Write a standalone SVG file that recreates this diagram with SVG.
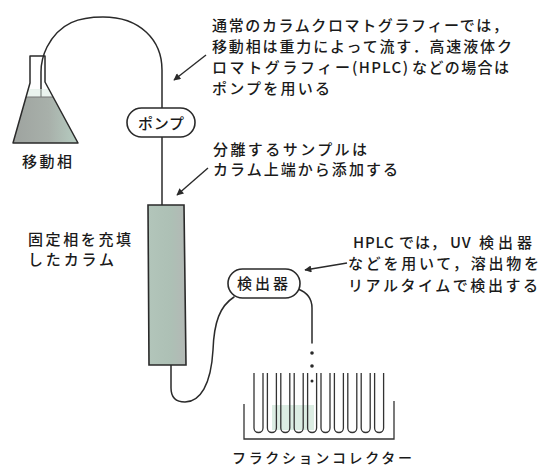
<svg xmlns="http://www.w3.org/2000/svg" width="542" height="467" viewBox="0 0 542 467">
  <style>
    .txt { font-family: "Noto Sans CJK JP", "Noto Sans", sans-serif; fill: #1a1a1a; font-weight: 500; }
    .t15 { font-size: 15px; }
    .t14 { font-size: 14px; }
    .line { fill: none; stroke: #2a2a2a; stroke-width: 1.5; stroke-linecap: round; stroke-linejoin: round; }
    .thin { fill: none; stroke: #333; stroke-width: 1.3; }
    .pill { fill: #fff; stroke: #2a2a2a; stroke-width: 1.6; }
    .lead { fill: none; stroke: #2a2a2a; stroke-width: 1.4; }
  </style>
  <defs>
    <marker id="arrowhead" viewBox="0 0 10 10" refX="9" refY="5" markerWidth="9" markerHeight="7" markerUnits="userSpaceOnUse" orient="auto">
      <path d="M0,0 L10,5 L0,10 Z" fill="#2a2a2a"/>
    </marker>
    <linearGradient id="liquid" x1="0" y1="0" x2="1" y2="0">
      <stop offset="0" stop-color="#9ea39f"/>
      <stop offset="0.55" stop-color="#a8b0aa"/>
      <stop offset="1" stop-color="#b6cdc1"/>
    </linearGradient>
    <linearGradient id="packing" x1="0" y1="0" x2="1" y2="0">
      <stop offset="0" stop-color="#b2c5ba"/>
      <stop offset="0.6" stop-color="#adc0b5"/>
      <stop offset="1" stop-color="#b3b8b5"/>
    </linearGradient>
    <!-- one collection tube: open top, rounded bottom -->
    <path id="tube" d="M0,373 L0,428 A4.5,4.5 0 0 0 9,428 L9,373"/>
  </defs>

  <!-- connecting tubing -->
  <g id="connectors">
    <path class="line" d="M41,140 L41,72 C41,62 43,55 47,47 C60,22 80,17 103,17 C140,17 162,40 162,70 L162,108"/>
    <path class="line" d="M162,137 L162,205"/>
    <path class="line" d="M171,365 L171,388 C171,398 177,402 185,402 C200,402 211,385 213,350 C214,322 220,306 234,297"/>
    <path class="line" d="M298,289 C306,292 312,298 312,308 L312,343"/>
    <!-- leader arrows for the notes -->
    <path class="lead" d="M206,55 L174,80" marker-end="url(#arrowhead)"/>
    <path class="lead" d="M208,168 L177,195" marker-end="url(#arrowhead)"/>
    <path class="lead" d="M347,263 L305,270" marker-end="url(#arrowhead)"/>
  </g>

  <!-- mobile phase reservoir (Erlenmeyer flask) -->
  <g id="flask">
    <path d="M26,97 L53,97 L78,143 L13,143 Z" fill="url(#liquid)"/>
    <path d="M28,89 L49,89 L53,97 L26,97 Z" fill="#dcebe3" opacity="0.6"/>
    <line x1="26" y1="97" x2="53" y2="97" stroke="#777" stroke-width="1"/>
    <path class="line" d="M30,56 L30,83 L13,143 L78,143 L45,82 L45,56 Z"/>
    <text class="txt t15" x="22" y="167" textLength="50" lengthAdjust="spacing">移動相</text>
  </g>

  <!-- pump -->
  <g id="pump">
    <rect class="pill" x="127" y="108" width="68" height="29" rx="14.5"/>
    <text class="txt t15" x="138" y="129" textLength="46" lengthAdjust="spacing">ポンプ</text>
  </g>

  <!-- packed column -->
  <g id="column">
    <path d="M148,205 L184,205 L186,365 L149,365 Z" fill="url(#packing)" stroke="#2a2a2a" stroke-width="1.6"/>
    <text class="txt t15" x="28" y="245" textLength="103" lengthAdjust="spacing">固定相を充填</text>
    <text class="txt t15" x="28" y="265" textLength="86" lengthAdjust="spacing">したカラム</text>
  </g>

  <!-- detector -->
  <g id="detector">
    <rect class="pill" x="228" y="269" width="72" height="29" rx="14.5"/>
    <text class="txt t15" x="237" y="289" textLength="51" lengthAdjust="spacing">検出器</text>
  </g>

  <!-- fraction collector -->
  <g id="fraction-collector">
    <rect x="272" y="405" width="42" height="25" fill="#d3e8dc" opacity="0.8"/>
    <circle cx="312" cy="353" r="1.8" fill="#2a2a2a"/>
    <circle cx="312" cy="366" r="1.8" fill="#2a2a2a"/>
    <circle cx="312" cy="381" r="1.5" fill="#2a2a2a"/>
    <g class="thin">
      <use href="#tube" x="254"/>
      <use href="#tube" x="267.4"/>
      <use href="#tube" x="280.8"/>
      <use href="#tube" x="294.2"/>
      <use href="#tube" x="307.6"/>
      <use href="#tube" x="321"/>
      <use href="#tube" x="334.4"/>
      <use href="#tube" x="347.8"/>
      <use href="#tube" x="361.2"/>
      <use href="#tube" x="374.6"/>
    </g>
    <path class="thin" d="M244,404 L244,439 L394,439 L394,401"/>
    <text class="txt t14" x="232" y="463" textLength="180" lengthAdjust="spacing">フラクションコレクター</text>
  </g>

  <!-- notes -->
  <g id="note-pump">
    <text class="txt t15" x="212" y="31" textLength="296" lengthAdjust="spacing">通常のカラムクロマトグラフィーでは，</text>
    <text class="txt t15" x="212" y="52" textLength="300" lengthAdjust="spacing">移動相は重力によって流す．高速液体ク</text>
    <text class="txt t15" x="212" y="73" textLength="138" lengthAdjust="spacing">ロマトグラフィー</text>
    <text class="txt t15" x="352" y="73" textLength="56" lengthAdjust="spacing">(HPLC)</text>
    <text class="txt t15" x="412" y="73" textLength="97" lengthAdjust="spacing">などの場合は</text>
    <text class="txt t15" x="212" y="94" textLength="118" lengthAdjust="spacing">ポンプを用いる</text>
  </g>
  <g id="note-sample">
    <text class="txt t15" x="213" y="155" textLength="154" lengthAdjust="spacing">分離するサンプルは</text>
    <text class="txt t15" x="213" y="175" textLength="185" lengthAdjust="spacing">カラム上端から添加する</text>
  </g>
  <g id="note-detector">
    <text class="txt t15" x="353" y="248" letter-spacing="0.8">HPLC<tspan x="399" letter-spacing="1">では，</tspan><tspan x="450" letter-spacing="0.8">UV</tspan><tspan x="479" letter-spacing="4">検出器</tspan></text>
    <text class="txt t15" x="348" y="269" textLength="191" lengthAdjust="spacing">などを用いて，溶出物を</text>
    <text class="txt t15" x="348" y="291" textLength="190" lengthAdjust="spacing">リアルタイムで検出する</text>
  </g>
</svg>
